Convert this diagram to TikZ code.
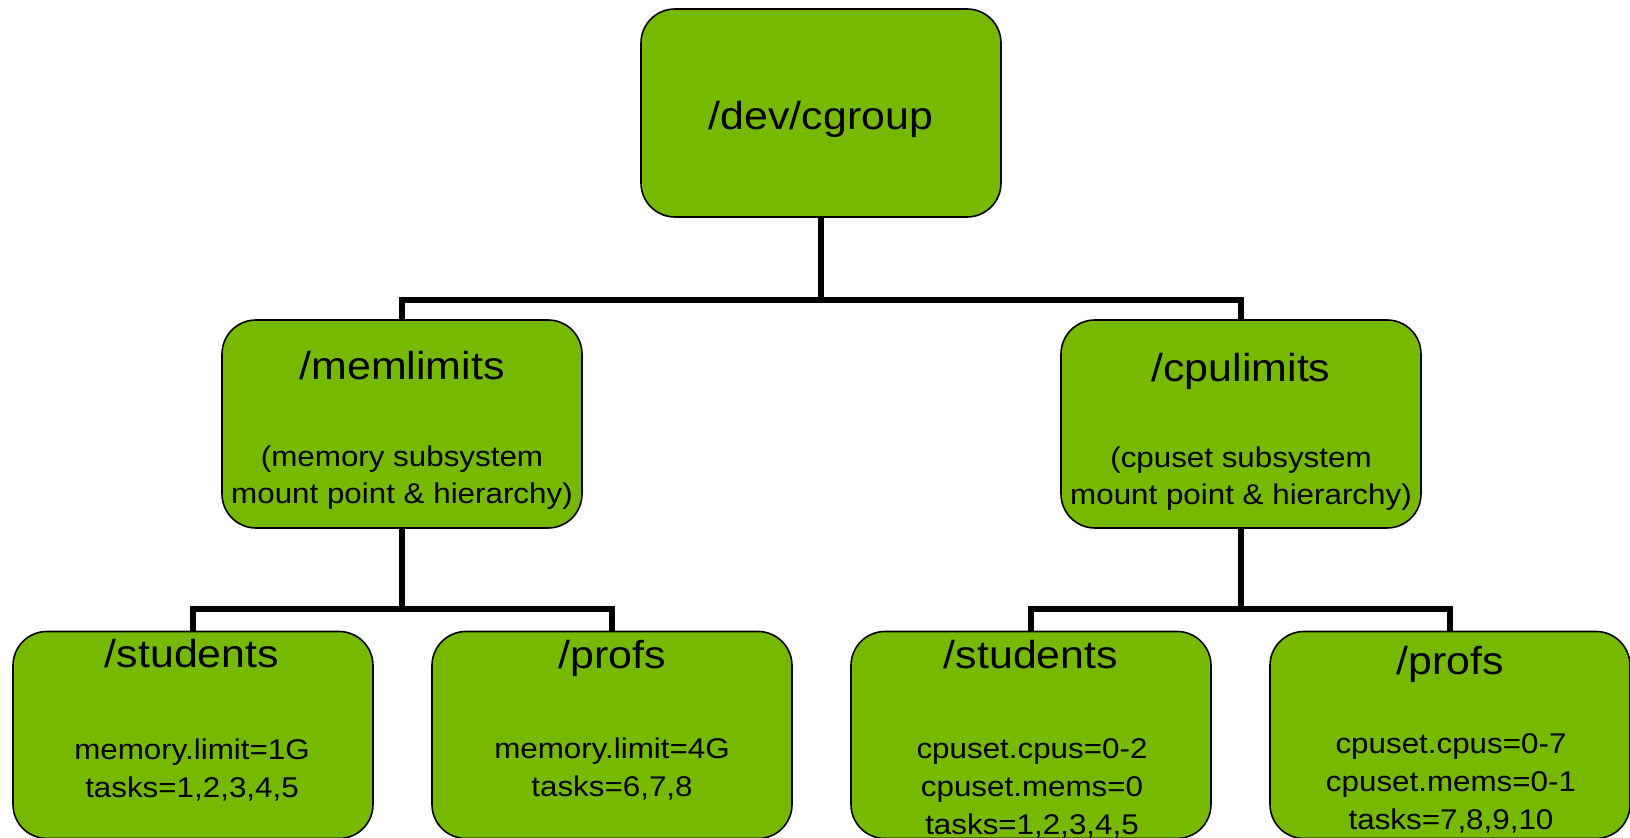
\documentclass[tikz,border=0pt]{standalone}
\usepackage{fontspec}
\setmainfont{Liberation Sans}[FakeStretch=1.1]
\usepackage{tikz}
\usetikzlibrary{positioning, calc}
\definecolor{cgreen}{RGB}{118,185,0}
\tikzset{
    group/.style={rectangle, rounded corners=17pt, draw=black, line width=0.8pt, fill=cgreen, minimum width=180pt, minimum height=104pt, inner sep=0pt},
    title/.style={font=\fontsize{19.5}{23}\selectfont, inner sep=0pt, anchor=base},
    info/.style={font=\fontsize{14.25}{19}\selectfont, align=center, inner sep=0pt, anchor=north},
    link/.style={line width=2.6pt}
}

\begin{document}
\begin{tikzpicture}[x=0.5pt, y=-0.5pt]
        \useasboundingbox (0,0) rectangle (1630,838);

        % Mount root
        \node (root) [group] at (821,113) {};
        \node (root-title) [title] at (821,130) {/dev/cgroup};

        % Subsystem hierarchies
        \node (mem) [group] at (402,424) {};
        \node (mem-title) [title] at (402,380) {/memlimits};
        \node (mem-info) [info, font=\fontsize{14.25}{18.5}\selectfont] at (402,445) {(memory subsystem\\mount point \& hierarchy)};

        \node (cpu) [group] at (1241,424) {};
        \node (cpu-title) [title] at (1241,382) {/cpulimits};
        \node (cpu-info) [info, font=\fontsize{14.25}{18.5}\selectfont] at (1241,446) {(cpuset subsystem\\mount point \& hierarchy)};

        % Groups
        \node (memstu) [group, minimum height=103.5pt] at (193,735) {};
        \node (memstu-title) [title] at (192,668) {/students};
        \node (memstu-info) [info] at (192,738) {memory.limit=1G\\tasks=1,2,3,4,5};

        \node (memprof) [group, minimum height=103.5pt] at (612,735) {};
        \node (memprof-title) [title] at (612,669) {/profs};
        \node (memprof-info) [info] at (612,737) {memory.limit=4G\\tasks=6,7,8};

        \node (cpustu) [group, minimum height=103.5pt] at (1031,735) {};
        \node (cpustu-title) [title] at (1031,669) {/students};
        \node (cpustu-info) [info] at (1032,738) {cpuset.cpus=0-2\\cpuset.mems=0\\tasks=1,2,3,4,5};

        \node (cpuprof) [group, minimum height=103.5pt] at (1450,735) {};
        \node (cpuprof-title) [title] at (1450,675) {/profs};
        \node (cpuprof-info) [info] at (1451,733) {cpuset.cpus=0-7\\cpuset.mems=0-1\\tasks=7,8,9,10};

        % Tree links
        \coordinate (top-bar) at (821,300);
        \coordinate (mem-bar) at (402,609);
        \coordinate (cpu-bar) at (1241,609);

        \draw[link] (root) -- (top-bar) -| (mem);
        \draw[link] (top-bar) -| (cpu);
        \draw[link] (mem) -- (mem-bar) -| (memstu);
        \draw[link] (mem-bar) -| (memprof);
        \draw[link] (cpu) -- (cpu-bar) -| (cpustu);
        \draw[link] (cpu-bar) -| (cpuprof);
    \end{tikzpicture}
\end{document}
